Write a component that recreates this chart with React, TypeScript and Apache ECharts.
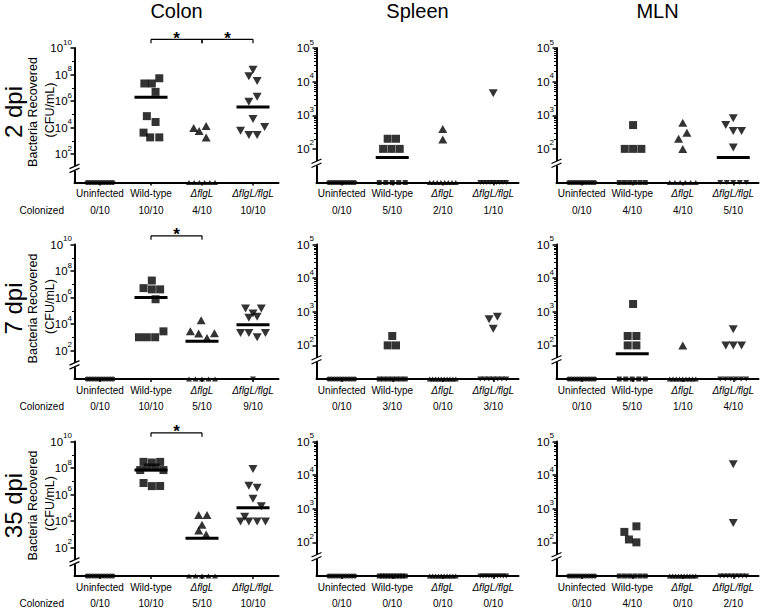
import React, { useEffect, useRef } from "react";
import * as echarts from "echarts";

const categories = ["Uninfected", "Wild-type", "ΔflgL", "ΔflgL/flgL"];
const organs = ["Colon", "Spleen", "MLN"];
const timepoints = ["2 dpi", "7 dpi", "35 dpi"];
const colonizedLabel = "Colonized";
const yTitleLines = ["Bacteria Recovered", "(CFU/mL)"];

// colonized animals: [group index, CFU/mL, beeswarm lane]
const colon2dpiPoints = [
  [1, 5.2e7, 1.0], [1, 2.1e7, -0.8], [1, 2.1e7, 0.1], [1, 4.9e6, 0.55],
  [1, 7.2e4, -0.5], [1, 2.6e4, 0.55], [1, 4.1e3, -0.9], [1, 1.8e3, -0.1], [1, 1.8e3, 1.0],
  [2, 9.0e3, -1.0], [2, 5.4e3, -0.35], [2, 1.3e4, 0.5], [2, 1.8e3, 0.5],
  [3, 2.3e8, 0], [3, 7.4e7, -0.5], [3, 3.3e7, 0.5], [3, 2.1e6, 0.5], [3, 8.8e5, -0.5],
  [3, 4.4e4, 0], [3, 1.1e4, 1.4], [3, 5.8e3, -1.5], [3, 2.7e3, -0.5], [3, 2.7e3, 0.5],
];
const spleen2dpiPoints = [
  [1, 200, -0.55], [1, 200, 0.45], [1, 100, -1.1], [1, 100, -0.1], [1, 100, 0.9],
  [2, 390, 0], [2, 190, 0],
  [3, 4500, 0],
];
const mln2dpiPoints = [
  [1, 510, 0.1], [1, 100, -0.9], [1, 100, 0.1], [1, 100, 1.1],
  [2, 600, 0], [2, 300, 0.5], [2, 200, -0.5], [2, 100, 0],
  [3, 810, 0], [3, 510, -0.9], [3, 340, 0], [3, 340, 1.0], [3, 110, 0],
];
const colon7dpiPoints = [
  [1, 1.9e7, 0.1], [1, 5.1e6, -0.9], [1, 4.1e6, 0.1], [1, 4.1e6, 1.1], [1, 7.4e5, 0.55],
  [1, 2.8e3, 1.5], [1, 1.0e3, -1.45], [1, 1.0e3, -0.5], [1, 1.0e3, 0.5],
  [2, 1.9e4, -0.1], [2, 2.8e3, -1.4], [2, 1.9e3, -0.4], [2, 8.9e2, 0.6], [2, 2.0e3, 1.5],
  [3, 1.5e5, -0.9], [3, 1.5e5, 1.0], [3, 6.3e4, 0], [3, 3.0e4, -0.5], [3, 3.6e4, 0.5],
  [3, 2.1e3, -1.5], [3, 2.1e3, -0.5], [3, 2.1e3, 1.5], [3, 1.0e3, 0.5],
];
const spleen7dpiPoints = [
  [1, 190, 0], [1, 100, -0.55], [1, 100, 0.45],
  [3, 600, -0.5], [3, 710, 0.5], [3, 310, 0],
];
const mln7dpiPoints = [
  [1, 1700, 0.1], [1, 190, -0.55], [1, 190, 0.5], [1, 100, -0.55], [1, 100, 0.5],
  [2, 100, 0],
  [3, 300, 0], [3, 100, -0.9], [3, 100, 0], [3, 100, 1.0],
];
const colon35dpiPoints = [
  [1, 2.9e8, -0.9], [1, 2.6e8, 0.1], [1, 2.9e8, 1.1], [1, 1.1e8, -0.4], [1, 1.1e8, 0.55],
  [1, 7.0e7, -1.3], [1, 7.0e7, 1.5], [1, 7.4e6, -0.9], [1, 4.3e6, 0.1], [1, 4.4e6, 1.1],
  [2, 2.8e4, -0.4], [2, 2.8e4, 0.6], [2, 5.3e3, 0], [2, 1.9e3, -0.4], [2, 9.6e2, 0.5],
  [3, 8.3e7, 0], [3, 4.5e6, -0.5], [3, 3.2e6, 0.5], [3, 4.7e5, 0], [3, 1.3e5, 1.0],
  [3, 2.1e4, -1.0], [3, 9.1e3, -1.5], [3, 9.1e3, -0.5], [3, 9.1e3, 0.5], [3, 9.1e3, 1.5],
];
const spleen35dpiPoints: number[][] = [];
const mln35dpiPoints = [
  [1, 205, -0.95], [1, 122, -0.4], [1, 300, 0.5], [1, 100, 0.5],
  [3, 2.1e4, 0], [3, 380, 0],
];

// animals with no bacteria recovered (plotted on the axis), per organ, per group
const zeroCounts2dpi = [[10, 0, 6, 0], [10, 5, 8, 9], [10, 6, 6, 5]];
const zeroCounts7dpi = [[10, 0, 5, 1], [10, 7, 10, 7], [10, 5, 9, 6]];
const zeroCounts35dpi = [[10, 0, 5, 0], [10, 10, 10, 10], [10, 6, 10, 8]];

// median bars (0 = none drawn)
const medians2dpi = [[0, 1.9e6, 0, 3.6e5], [0, 55, 0, 0], [0, 0, 0, 55]];
const medians7dpi = [[0, 1.0e6, 500, 8.7e3], [0, 0, 0, 0], [0, 56, 0, 0]];
const medians35dpi = [[0, 7.0e7, 510, 9.8e4], [0, 0, 0, 0], [0, 0, 0, 0]];

const colonized2dpi = [["0/10", "10/10", "4/10", "10/10"], ["0/10", "5/10", "2/10", "1/10"], ["0/10", "4/10", "4/10", "5/10"]];
const colonized7dpi = [["0/10", "10/10", "5/10", "9/10"], ["0/10", "3/10", "0/10", "3/10"], ["0/10", "5/10", "1/10", "4/10"]];
const colonized35dpi = [["0/10", "10/10", "5/10", "10/10"], ["0/10", "0/10", "0/10", "0/10"], ["0/10", "4/10", "0/10", "2/10"]];

// significance comparisons in colon (group pairs), per time point
const colonSignificance = [[[1, 2], [2, 3]], [[1, 2]], [[1, 2]]];

// log10 axis settings
const colonTicks = [2, 4, 6, 8, 10];
const colonMinorTicks = [3, 5, 7, 9];
const colonRange = [-0.15, 10];
const colonBreak = 0.93;
const tissueTicks = [2, 3, 4, 5];
const tissueMinorTicks = [2, 3, 4].flatMap((d) => [2, 3, 4, 5, 6, 7, 8, 9].map((k) => d + Math.log10(k)));
const tissueRange = [1, 5];
const tissueBreak = 1.58;

const panelPoints = [
  [colon2dpiPoints, spleen2dpiPoints, mln2dpiPoints],
  [colon7dpiPoints, spleen7dpiPoints, mln7dpiPoints],
  [colon35dpiPoints, spleen35dpiPoints, mln35dpiPoints],
];
const panelZeros = [zeroCounts2dpi, zeroCounts7dpi, zeroCounts35dpi];
const panelMedians = [medians2dpi, medians7dpi, medians35dpi];
const panelColonized = [colonized2dpi, colonized7dpi, colonized35dpi];

// layout
const FONT = "'Liberation Sans', Arial, Helvetica, sans-serif";
const gridLefts = [74.5, 316.5, 556.5];
const gridWidths = [204, 202, 202];
const gridTops = [48, 244.5, 441.5];
const GRID_H = 134.5;
const COLONIZED_OFFSET = 27.5;
const LANE_PX = 8.3;
const ZERO_SPREAD_PX = 13;
const groupSymbols = ["circle", "rect", "triangle", "triangle"];
const groupRotate = [0, 0, 0, 180];
const groupSizes: any[] = [7, 8, [9, 8], [9, 8]];
const catCenters = [0.5, 1.5, 2.5, 3.5];

function buildOption() {
  const grid: any[] = [];
  const xAxis: any[] = [];
  const yAxis: any[] = [];
  const series: any[] = [];
  const graphic: any[] = [];

  for (let r = 0; r < 3; r++) {
    for (let c = 0; c < 3; c++) {
      const g = r * 3 + c;
      const isColon = c === 0;
      const range = isColon ? colonRange : tissueRange;
      const unitPx = gridWidths[c] / 4;
      grid.push({
        left: gridLefts[c], top: gridTops[r], width: gridWidths[c], height: GRID_H,
        containLabel: false, outerBoundsMode: "none",
      });
      const colonized = panelColonized[r][c];
      xAxis.push({
        gridIndex: g, type: "value", min: 0, max: 4, position: "bottom",
        axisLine: { show: true, onZero: false, lineStyle: { color: "#000", width: 2 } },
        axisTick: { show: true, customValues: catCenters, length: 3, lineStyle: { color: "#000", width: 1.5 } },
        axisLabel: {
          show: true, customValues: catCenters, margin: 6, color: "#000", fontSize: 10, fontFamily: FONT,
          formatter: (v: number) => {
            const i = Math.round(v - 0.5);
            return i >= 2 ? `{i|${categories[i]}}` : categories[i];
          },
          rich: { i: { fontStyle: "italic", fontSize: 10, fontFamily: FONT, color: "#000" } },
        },
        splitLine: { show: false },
      });
      xAxis.push({
        gridIndex: g, type: "value", min: 0, max: 4, position: "bottom", offset: COLONIZED_OFFSET,
        axisLine: { show: false }, axisTick: { show: false }, splitLine: { show: false },
        axisLabel: {
          show: true, customValues: catCenters, margin: 0, verticalAlign: "middle",
          color: "#000", fontSize: 10, fontFamily: FONT,
          formatter: (v: number) => colonized[Math.round(v - 0.5)],
        },
      });
      const ticks = isColon ? colonTicks : tissueTicks;
      yAxis.push({
        gridIndex: g, type: "value", min: range[0], max: range[1], position: "left",
        axisLine: { show: true, onZero: false, lineStyle: { color: "#000", width: 2 } },
        axisTick: { show: true, customValues: ticks, length: 4, lineStyle: { color: "#000", width: 1.5 } },
        axisLabel: {
          show: true, customValues: ticks, margin: 2.5, padding: [0, 0, 4, 0],
          formatter: (v: number) => `{b|10}{s|${Math.round(v)}}`,
          rich: {
            b: { fontSize: 11.5, fontFamily: FONT, color: "#000", lineHeight: 16, verticalAlign: "bottom" },
            s: { fontSize: 8, fontFamily: FONT, color: "#000", lineHeight: 16, verticalAlign: "top" },
          },
        },
        splitLine: { show: false },
      });
      yAxis.push({
        gridIndex: g, type: "value", min: range[0], max: range[1], position: "left", offset: 0,
        axisLine: { show: false },
        axisTick: { show: true, customValues: isColon ? colonMinorTicks : tissueMinorTicks, length: 2.5, lineStyle: { color: "#000", width: 1 } },
        axisLabel: { show: false }, splitLine: { show: false },
      });

      const xi = 2 * g;
      const yi = 2 * g;
      const pts = panelPoints[r][c];
      const zeros = panelZeros[r][c];
      for (let k = 0; k < 4; k++) {
        const data = pts.filter((p) => p[0] === k).map((p) => [catCenters[k] + (p[2] * LANE_PX) / unitPx, Math.log10(p[1])]);
        if (data.length) {
          series.push({
            type: "scatter", xAxisIndex: xi, yAxisIndex: yi, symbol: groupSymbols[k], symbolRotate: groupRotate[k],
            symbolSize: groupSizes[k], itemStyle: { color: "#000" }, data, silent: true, z: 3,
          });
        }
        const n = zeros[k];
        if (n > 0) {
          const zdata = Array.from({ length: n }, (_, i) => {
            const off = n > 1 ? -ZERO_SPREAD_PX + (2 * ZERO_SPREAD_PX * i) / (n - 1) : 0;
            return [catCenters[k] + off / unitPx, range[0]];
          });
          series.push({
            type: "scatter", xAxisIndex: xi, yAxisIndex: yi, symbol: groupSymbols[k], symbolRotate: groupRotate[k],
            symbolSize: k >= 2 ? [6, 5] : 5, itemStyle: { color: "#000" }, data: zdata, silent: true, clip: false, z: 3,
          });
        }
      }
      const meds = panelMedians[r][c];
      const medData = meds.map((m, k) => (m > 0 ? [catCenters[k], Math.log10(m)] : null)).filter(Boolean);
      if (medData.length) {
        series.push({
          type: "custom", coordinateSystem: "cartesian2d", xAxisIndex: xi, yAxisIndex: yi, clip: false, silent: true, z: 4,
          data: medData,
          renderItem: (_p: any, api: any) => {
            const p = api.coord([api.value(0), api.value(1)]);
            return { type: "rect", shape: { x: p[0] - 16.5, y: p[1] - 1.5, width: 33, height: 3 }, style: { fill: "#000" } };
          },
        });
      }
      series.push({
        type: "custom", coordinateSystem: "cartesian2d", xAxisIndex: xi, yAxisIndex: yi, clip: false, silent: true, z: 5,
        data: [[0, isColon ? colonBreak : tissueBreak]],
        renderItem: (_p: any, api: any) => {
          const p = api.coord([api.value(0), api.value(1)]);
          const x = p[0], y = p[1];
          const st = { stroke: "#000", lineWidth: 1.3 };
          return {
            type: "group",
            children: [
              { type: "rect", shape: { x: x - 4, y: y - 2, width: 8, height: 4.5 }, style: { fill: "#fff" } },
              { type: "line", shape: { x1: x - 5, y1: y + 0.5, x2: x + 5, y2: y - 4 }, style: st },
              { type: "line", shape: { x1: x - 5, y1: y + 4.5, x2: x + 5, y2: y }, style: st },
            ],
          };
        },
      });
      if (isColon) {
        series.push({
          type: "custom", coordinateSystem: "cartesian2d", xAxisIndex: xi, yAxisIndex: yi, clip: false, silent: true, z: 5,
          data: colonSignificance[r],
          renderItem: (params: any, api: any) => {
            const a = api.value(0), b = api.value(1);
            const x1 = api.coord([catCenters[a], range[0]])[0];
            const x2 = api.coord([catCenters[b], range[0]])[0];
            const y = params.coordSys.y - 8.7;
            const st = { stroke: "#000", lineWidth: 1.2 };
            return {
              type: "group",
              children: [
                { type: "line", shape: { x1, y1: y, x2, y2: y }, style: st },
                { type: "line", shape: { x1, y1: y, x2: x1, y2: y + 4 }, style: st },
                { type: "line", shape: { x1: x2, y1: y, x2, y2: y + 4 }, style: st },
                {
                  type: "text",
                  style: {
                    text: "*", x: (x1 + x2) / 2, y: y - 1, align: "center", verticalAlign: "middle",
                    textAlign: "center", textVerticalAlign: "middle", fontSize: 17, fontWeight: "bold", fontFamily: FONT, fill: "#000",
                  },
                },
              ],
            };
          },
        });
      }
    }
  }

  const txt = (text: string, x: number, y: number, size: number, rotation = 0, align = "center") => ({
    type: "text", x, y, rotation, silent: true,
    style: {
      text, fontSize: size, fontFamily: FONT, fill: "#000",
      align, verticalAlign: "middle", textAlign: align, textVerticalAlign: "middle",
    },
  });
  for (let c = 0; c < 3; c++) graphic.push(txt(organs[c], gridLefts[c] + gridWidths[c] / 2, 11, 20));
  for (let r = 0; r < 3; r++) {
    const cy = gridTops[r] + 64;
    graphic.push(txt(timepoints[r], 13, cy, 24, Math.PI / 2));
    graphic.push(txt(yTitleLines[0], 33, cy, 12.5, Math.PI / 2));
    graphic.push(txt(yTitleLines[1], 50, cy - 2, 12.5, Math.PI / 2));
    graphic.push(txt(colonizedLabel, 64, gridTops[r] + GRID_H + COLONIZED_OFFSET, 10, 0, "right"));
  }

  return { animation: false, backgroundColor: "#fff", grid, xAxis, yAxis, series, graphic };
}

export default function App() {
  const ref = useRef<HTMLDivElement>(null);
  useEffect(() => {
    document.body.style.margin = "0";
    const chart = echarts.init(ref.current!, undefined, { renderer: "svg" });
    chart.setOption(buildOption() as any);
    return () => chart.dispose();
  }, []);
  return <div ref={ref} style={{ width: 760, height: 609 }} />;
}
